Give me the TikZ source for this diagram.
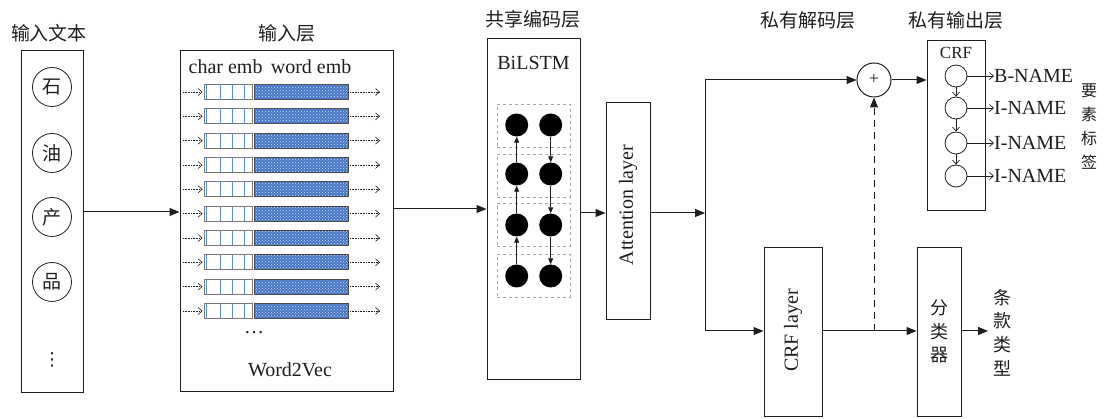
\documentclass[tikz,border=0pt]{standalone}
\usepackage{fontspec}
\setmainfont{Liberation Serif}
\newfontfamily\cjk{Noto Sans CJK SC}
\newfontfamily\dejavu{DejaVu Sans}
\usetikzlibrary{arrows.meta,patterns,calc}
\definecolor{embblue}{RGB}{72,118,200}
\definecolor{lineblue}{RGB}{90,140,215}
\definecolor{boxgray}{RGB}{120,120,120}
\definecolor{ink}{RGB}{30,30,30}
\begin{document}
\begin{tikzpicture}[x=1pt,y=-1pt,
  every node/.style={inner sep=0pt, text=ink},
  en/.style={font=\fontsize{20}{24}\selectfont},
  zh/.style={font=\cjk\fontsize{19}{24}\selectfont},
  blk/.style={draw=ink, line width=1pt, rectangle},
  arr/.style={draw=ink, line width=1pt, -{Triangle[length=10pt,width=8pt]}},
  sarr/.style={draw=ink, line width=0.8pt, -{Triangle[length=6pt,width=5pt]}},
  oarr/.style={draw=ink, line width=0.7pt, -{Straight Barb[length=4pt,width=7pt]}},
  dotarr/.style={draw=ink, line width=0.6pt, densely dotted, -{Straight Barb[length=4pt,width=7pt,line width=0.6pt,sep]}},
  chr/.style={draw=ink, line width=0.8pt, circle, minimum size=39pt, font=\cjk\fontsize{19}{24}\selectfont},
  charbox/.style={draw=boxgray, line width=0.8pt, rectangle, minimum width=48pt, minimum height=15pt},
  wordbox/.style={draw=ink!80, line width=0.8pt, rectangle, minimum width=94pt, minimum height=15pt,
     preaction={fill=embblue}, pattern=crosshatch dots, pattern color=white!75!embblue},
  dbox/.style={draw=gray!70, dashed, line width=0.8pt, rectangle, minimum width=73pt, minimum height=43pt},
  dot/.style={circle, fill=black, minimum size=23pt},
  ocirc/.style={draw=ink, line width=0.8pt, circle, minimum size=22pt},
  vtext/.style={align=center, font=\cjk\fontsize{18}{23.6}\selectfont}
]
\useasboundingbox (0,0) rectangle (1109,419);

% titles
\node[zh] (t1) at (49,33) {输入文本};
\node[zh] (t2) at (287,33) {输入层};
\node[zh] (t3) at (533,19) {共享编码层};
\node[zh] (t4) at (808,20) {私有解码层};
\node[zh] (t5) at (956,20) {私有输出层};

% input text
\node[blk, minimum width=62pt, minimum height=342pt] (intext) at (52,222) {};
\node[chr] (s1) at (52,87) {石};
\node[chr] (s2) at (52,153) {油};
\node[chr] (s3) at (52,217) {产};
\node[chr] (s4) at (52,282) {品};
\node[font=\dejavu\fontsize{18}{24}\selectfont] (s5) at (52,360) {⋮};

% input layer
\node[blk, minimum width=213pt, minimum height=341pt] (inlayer) at (286.5,221.5) {};
\node[en] (embl) at (270,67) {char emb\, word emb};
\foreach \i in {0,...,9}{
  \pgfmathsetmacro\ry{92+24.33*\i}
  \node[charbox] (c\i) at (228,\ry) {};
  \node[wordbox] (w\i) at (301,\ry) {};
  \foreach \xx in {206,220,232,244}{
    \draw[lineblue, line width=1pt] (\xx,{\ry-7}) -- (\xx,{\ry+7});
  }
  \coordinate (cl\i) at (183,\ry);
  \coordinate (wr\i) at (381,\ry);
  \draw[dotarr] (cl\i) -- (c\i.west);
  \draw[dotarr] (w\i.east) -- (wr\i);
}
\node[en] (ell) at (254,333) {…};
\node[en] (w2v) at (290,370) {Word2Vec};

% BiLSTM
\node[blk, minimum width=93pt, minimum height=341pt] (bilstm) at (533.5,209.5) {};
\node[en] (bil) at (533.5,63) {BiLSTM};
\node[dbox] (d1) at (533.5,125.5) {};
\node[dbox] (d2) at (533.5,175.5) {};
\node[dbox] (d3) at (533.5,224.5) {};
\node[dbox] (d4) at (533.5,276) {};
\node[dot] (l1) at (516.7,125) {};
\node[dot] (l2) at (516.7,174) {};
\node[dot] (l3) at (516.7,225) {};
\node[dot] (l4) at (516.7,276) {};
\node[dot] (r1) at (550.7,125) {};
\node[dot] (r2) at (550.7,174) {};
\node[dot] (r3) at (550.7,225) {};
\node[dot] (r4) at (550.7,276) {};
\draw[sarr] (l4) -- (l3);
\draw[sarr] (l3) -- (l2);
\draw[sarr] (l2) -- (l1);
\draw[sarr] (r1) -- (r2);
\draw[sarr] (r2) -- (r3);
\draw[sarr] (r3) -- (r4);

% attention
\node[blk, minimum width=44pt, minimum height=217pt] (att) at (628,211.5) {};
\node[en, rotate=90] (attl) at (628,205) {Attention layer};

% right part
\node[draw=ink, line width=1pt, circle, minimum size=34pt] (plus) at (874,80) {};
\node[font=\fontsize{18}{18}\selectfont] (plusl) at (874,79) {+};
\node[blk, minimum width=58pt, minimum height=170pt] (crfout) at (956,126) {};
\node[font=\fontsize{17}{20}\selectfont] (crft) at (956,53) {CRF};
\node[ocirc] (o1) at (956,76) {};
\node[ocirc] (o2) at (956,108) {};
\node[ocirc] (o3) at (956,143) {};
\node[ocirc] (o4) at (956,176) {};
\node[en, anchor=west] (n1) at (994,76) {B-NAME};
\node[en, anchor=west] (n2) at (994,108) {I-NAME};
\node[en, anchor=west] (n3) at (994,143) {I-NAME};
\node[en, anchor=west] (n4) at (994,176) {I-NAME};
\draw[oarr] (o1) -- (o2);
\draw[oarr] (o2) -- (o3);
\draw[oarr] (o3) -- (o4);
\draw[oarr] (o1.east) -- (n1.west);
\draw[oarr] (o2.east) -- (n2.west);
\draw[oarr] (o3.east) -- (n3.west);
\draw[oarr] (o4.east) -- (n4.west);
\node[vtext, font=\cjk\fontsize{16}{24}\selectfont] (ysbq) at (1089,127) {要\\素\\标\\签};

\node[blk, minimum width=58pt, minimum height=169pt] (crflayer) at (793,332.5) {};
\node[en, rotate=90] (crfl) at (793,330.5) {CRF layer};
\node[blk, minimum width=44pt, minimum height=169pt] (cls) at (939,332.5) {};
\node[vtext] (clst) at (939,331.5) {分\\类\\器};
\node[vtext] (tktp) at (1002,332.5) {条\\款\\类\\型};

% connectors
\coordinate (y212) at (0,212);
\coordinate (y209) at (0,209);
\coordinate (y213) at (0,213);
\coordinate (y331) at (0,331);
\coordinate (j) at (705,213);
\coordinate (dsh) at (874,331);
\coordinate (tkin) at (988,331);
\draw[arr] (intext.east |- y212) -- (inlayer.west |- y212);
\draw[arr] (inlayer.east |- y209) -- (bilstm.west |- y209);
\draw[arr] (bilstm.east |- y213) -- (att.west |- y213);
\draw[arr] (att.east |- y213) -- (j);
\draw[arr] (j) |- (plus.west);
\draw[arr] (j) |- (crflayer.west |- y331);
\draw[arr] (plus.east) -- (crfout.west |- plus.east);
\draw[arr] (crflayer.east |- y331) -- (cls.west |- y331);
\draw[arr, dash pattern=on 7pt off 5pt] (dsh) -- (plus.south);
\draw[arr] (cls.east |- y331) -- (tkin);
\end{tikzpicture}
\end{document}
